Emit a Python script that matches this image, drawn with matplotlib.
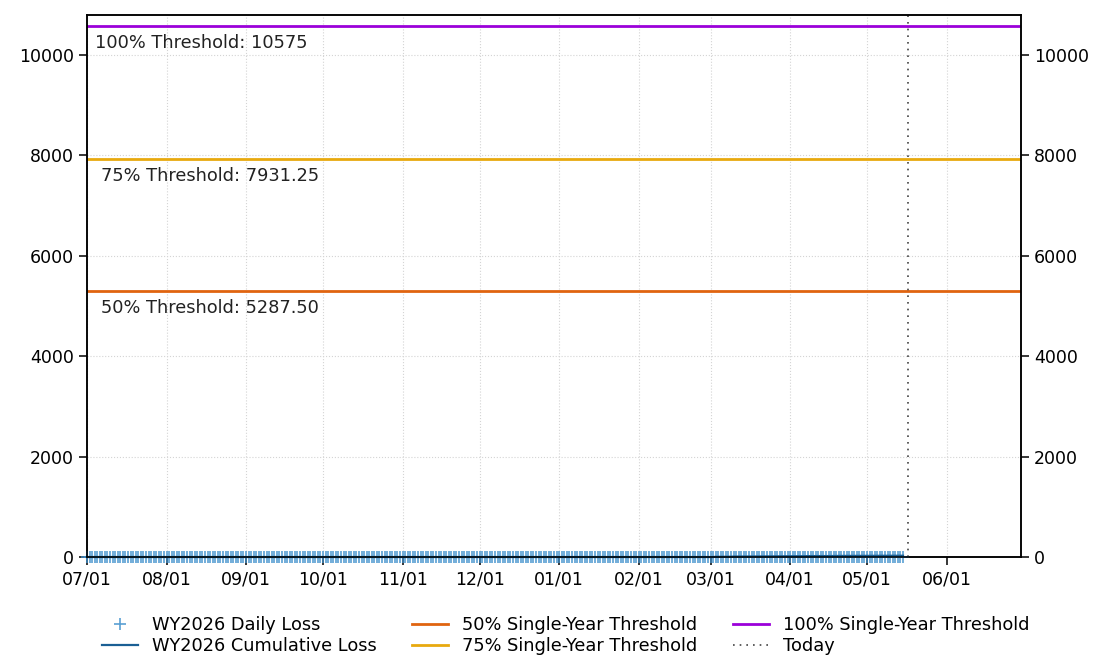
import matplotlib
matplotlib.use("Agg")
import matplotlib.pyplot as plt
import matplotlib.dates as mdates
import numpy as np
import pandas as pd

# ---- data ----
start_date = "2025-07-01"
end_axis_date = "2026-06-30"
today_date = "2026-05-17"

# daily loss by month (WY2026), read as ~0 except small values in spring
daily_jul = [0] * 31
daily_aug = [0] * 31
daily_sep = [0] * 30
daily_oct = [0] * 31
daily_nov = [0] * 30
daily_dec = [0] * 31
daily_jan = [0] * 31
daily_feb = [0] * 28
daily_mar = [0, 0, 4, 0, 0, 2, 0, 0, 0, 3, 0, 0, 0, 0, 2, 0, 0, 0, 0, 1,
             0, 0, 0, 2, 0, 0, 0, 0, 1, 0, 0]
daily_apr = [0, 0, 1, 0, 0, 0, 2, 0, 0, 0, 0, 1, 0, 0, 0, 0, 0, 2, 0, 0,
             0, 0, 1, 0, 0, 0, 0, 0, 1, 0]
daily_may = [0, 0, 0, 1, 0, 0, 0, 0, 0, 1, 0, 0, 0, 0, 0]

thresholds = [5287.50, 7931.25, 10575]
threshold_labels = ["50% Threshold: 5287.50", "75% Threshold: 7931.25", "100% Threshold: 10575"]
threshold_legend = ["50% Single-Year Threshold", "75% Single-Year Threshold", "100% Single-Year Threshold"]
threshold_colors = ["#e0640f", "#e8a90e", "#9b00d9"]
y_ticks = [0, 2000, 4000, 6000, 8000, 10000]

plt.rcParams["font.family"] = ["DejaVu Sans"]

daily = (daily_jul + daily_aug + daily_sep + daily_oct + daily_nov + daily_dec
         + daily_jan + daily_feb + daily_mar + daily_apr + daily_may)
dates = pd.date_range(start_date, periods=len(daily), freq="D")
cumulative = np.cumsum(daily)

fig = plt.figure(figsize=(11.05, 6.55), dpi=100)
ax = fig.add_axes([0.0787, 0.1496, 0.924 - 0.0787, 0.977 - 0.1496])

ax.plot(dates, daily, linestyle="none", marker="+", markersize=8, markeredgewidth=1.2,
        color="#3d8fcc", alpha=0.85, label="WY2026 Daily Loss", zorder=3, clip_on=False)
ax.plot(dates, cumulative, color="#1a5f94", linewidth=1.6, label="WY2026 Cumulative Loss",
        zorder=4, clip_on=False)

x0 = pd.Timestamp(start_date)
x1 = pd.Timestamp(end_axis_date)
offsets = [5.5, 5.5, 3]
for val, lab, leg, col, off in zip(thresholds, threshold_labels, threshold_legend, threshold_colors, offsets):
    ax.axhline(val, color=col, linewidth=2, label=leg, zorder=2)
    ax.text(x0 + pd.Timedelta(days=off), val - 340, lab, fontsize=12.8, va="center", ha="left", color="#222222")

ax.axvline(pd.Timestamp(today_date), color="#444444", linestyle=(0, (1, 3)), linewidth=1.2, label="Today")

ax.set_xlim(x0, x1)
ax.set_ylim(0, 10575 * 1.02)
ax.set_yticks(y_ticks)
ax.xaxis.set_major_locator(mdates.MonthLocator())
ax.xaxis.set_major_formatter(mdates.DateFormatter("%m/%d"))
ax.grid(True, linestyle=":", color="#d4d4d4", linewidth=0.8)
ax.tick_params(axis="both", labelsize=12.5, length=6, width=1.1, direction="out")
for s in ax.spines.values():
    s.set_linewidth(1.1)

ax2 = ax.twinx()
ax2.set_ylim(ax.get_ylim())
ax2.set_yticks(y_ticks)
ax2.tick_params(axis="y", labelsize=12.5, length=6, width=1.1, direction="out")
for s in ax2.spines.values():
    s.set_linewidth(1.1)

h, l = ax.get_legend_handles_labels()
fig.legend(h, l, loc="lower center", ncol=3,
           frameon=False, fontsize=12.8, bbox_to_anchor=(0.512, -0.025),
           handlelength=2.0, columnspacing=2.0, labelspacing=0.18)

fig.savefig("out.png", dpi=100)
